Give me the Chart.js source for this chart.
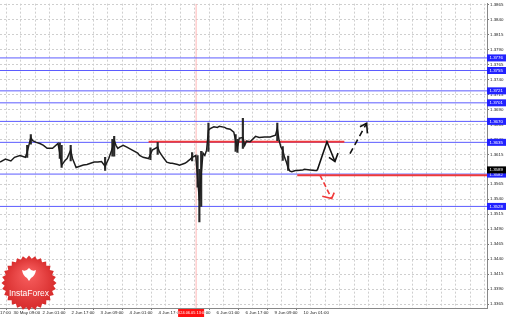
<!DOCTYPE html>
<html>
<head>
<meta charset="utf-8">
<script src="https://cdn.jsdelivr.net/npm/chart.js@4.4.1/dist/chart.umd.min.js"></script>
<style>
html, body { margin: 0; padding: 0; background: #fff; }
</style>
</head>
<body>
<canvas id="chart" width="510" height="318"></canvas>
<script>
// bar numbers (hourly bars, left edge = 0) and closes
const closeBars = [
  0, 3, 6, 8, 11, 14, 15, 17, 18, 20, 22, 24, 26, 29, 32, 33, 34, 36, 37, 39,
  40, 42, 44, 46, 48, 50, 52, 54, 56, 58, 60, 62, 63, 64, 65, 66, 68, 70, 73, 76,
  77, 79, 82, 83, 84, 87, 88, 90, 92, 94, 95, 98, 99, 102, 103, 105, 106, 108, 109, 110,
  111, 112, 113, 114, 115, 116, 118, 120, 121, 124, 125, 127, 129, 130, 131, 132, 134, 135, 136, 138,
  141, 143, 146, 149, 152, 153, 154, 155, 156, 157, 158, 159, 160, 161, 163, 164, 167, 168, 171, 174,
  175
];
const closePrices = [
  1.3602, 1.3607, 1.3604, 1.3610, 1.3613, 1.3610, 1.3619, 1.3643, 1.3638, 1.3635, 1.3633, 1.3630, 1.3625, 1.3625, 1.3633, 1.3617, 1.3597, 1.3605, 1.3608, 1.3622,
  1.3608, 1.3593, 1.3595, 1.3597, 1.3598, 1.3600, 1.3602, 1.3602, 1.3603, 1.3595, 1.3608, 1.3625, 1.3638, 1.3630, 1.3625, 1.3627, 1.3630, 1.3627, 1.3622, 1.3617,
  1.3613, 1.3610, 1.3608, 1.3615, 1.3622, 1.3627, 1.3619, 1.3610, 1.3602, 1.3600, 1.3600, 1.3598, 1.3597, 1.3600, 1.3602, 1.3607, 1.3610, 1.3613, 1.3577, 1.3538,
  1.3583, 1.3617, 1.3613, 1.3622, 1.3655, 1.3658, 1.3661, 1.3660, 1.3662, 1.3660, 1.3658, 1.3657, 1.3652, 1.3638, 1.3625, 1.3642, 1.3643, 1.3630, 1.3637, 1.3636,
  1.3645, 1.3643, 1.3644, 1.3644, 1.3647, 1.3658, 1.3638, 1.3627, 1.3622, 1.3610, 1.3602, 1.3592, 1.3587, 1.3586, 1.3588, 1.3588, 1.3589, 1.3590, 1.3589, 1.3588,
  1.3588
];

// the longer candle shadows
const wickBars  = [15, 17, 33, 34, 39, 58, 62, 63, 83, 87, 106, 109, 110, 111, 115, 130, 131, 134, 153, 156, 159];
const wickLows  = [1.3610, 1.3632, 1.3608, 1.3593, 1.3604, 1.3588, 1.3612, 1.3612, 1.3606, 1.3615, 1.3604, 1.3560, 1.3502, 1.3528, 1.3620, 1.3620, 1.3618, 1.3625, 1.3638, 1.3605, 1.3588];
const wickHighs = [1.3630, 1.3648, 1.3634, 1.3630, 1.3630, 1.3610, 1.3640, 1.3645, 1.3626, 1.3635, 1.3618, 1.3613, 1.3590, 1.3620, 1.3667, 1.3648, 1.3640, 1.3675, 1.3667, 1.3628, 1.3612];

// horizontal levels (blue), the two red ones and the last price
const levelPrices = [1.3776, 1.3755, 1.3721, 1.3701, 1.3670, 1.3635, 1.3582, 1.3528];
const redLevelPrices = [1.3636, 1.3580];
const redLevelFrom = [82, 164];
const redLevelTo = [190, 269];
const lastPrice = 1.3589;

// vertical marker
const markerBar = 108.2;
const markerLabel = '2024.06.05 13:00';

// drawn arrows
const upPathBars = [175, 180.4, 184.8];
const upPathPrices = [1.3588, 1.3636, 1.3603];
const upHeadBars = [181.5, 184.8, 186.5];
const upHeadPrices = [1.3610, 1.3603, 1.3617];
const dashUpBars = [193.1, 202.3];
const dashUpPrices = [1.3616, 1.3667];
const dashUpHeadBars = [198.6, 202.3, 202.7];
const dashUpHeadPrices = [1.3661, 1.3667, 1.3650];
const redDownBars = [176.6, 183];
const redDownPrices = [1.3580, 1.3541];
const redDownHeadBars = [177.8, 183, 184.4];
const redDownHeadPrices = [1.3545, 1.3541, 1.3551];

// axes
const xLabelBars = [0, 7.5, 23.5, 39.5, 55.5, 71.5, 87.5, 103.5, 119.5, 135.5, 151.5, 167.5];
const xLabelTexts = ['17:00', '30 May 09:00', '2 Jun 01:00', '2 Jun 17:00', '3 Jun 09:00', '4 Jun 01:00',
  '4 Jun 17:00', '5 Jun 09:00', '6 Jun 01:00', '6 Jun 17:00', '9 Jun 09:00', '10 Jun 01:00'];
const yTickValues = [1.3865, 1.3840, 1.3815, 1.3790, 1.3765, 1.3740, 1.3715, 1.3690, 1.3665, 1.3640,
  1.3615, 1.3590, 1.3565, 1.3540, 1.3515, 1.3490, 1.3465, 1.3440, 1.3415, 1.3390, 1.3365];

const xMax = 268.7;
const yMin = 1.335833, yMax = 1.386667;
const FONT = 'Liberation Sans';

function line(xs, ys, color, width, dash, order) {
    return {
        type: 'line',
        data: xs.map((x, i) => ({x: x, y: ys[i]})),
        borderColor: color,
        borderWidth: width,
        borderDash: dash,
        pointRadius: 0,
        fill: false,
        tension: 0,
        order: order
    };
}

function labelFor(v) {
    const i = xLabelBars.findIndex(b => Math.abs(b - v) < 0.01);
    return i < 0 ? '' : xLabelTexts[i];
}

let datasets = [];
datasets.push(line([markerBar, markerBar], [yMin, yMax], '#ffb4b4', 1, [], 20));
levelPrices.forEach(p => datasets.push(line([0, xMax], [p, p], '#5c5cff', 1, [], 19)));
redLevelPrices.forEach((p, i) => datasets.push(line([redLevelFrom[i], redLevelTo[i]], [p, p], '#f03a3a', 2, [], 18)));
datasets.push({
    type: 'bar',
    data: wickBars.map((b, i) => ({x: b, y: [wickLows[i], wickHighs[i]]})),
    backgroundColor: '#2a2a2a',
    barThickness: 1.5,
    grouped: false,
    order: 17
});
datasets.push(line(closeBars, closePrices, '#1c1c1c', 1.5, [], 16));
datasets.push(line(upPathBars, upPathPrices, '#111', 1.6, [], 5));
datasets.push(line(upHeadBars, upHeadPrices, '#111', 1.6, [], 5));
datasets.push(line(dashUpBars, dashUpPrices, '#111', 1.6, [6, 4], 5));
datasets.push(line(dashUpHeadBars, dashUpHeadPrices, '#111', 1.6, [], 5));
datasets.push(line(redDownBars, redDownPrices, '#f03a3a', 1.6, [5, 3], 5));
datasets.push(line(redDownHeadBars, redDownHeadPrices, '#f03a3a', 1.6, [], 5));

function priceBox(ctx, y, txt, bg) {
    ctx.fillStyle = bg;
    ctx.fillRect(487, y - 3.5, 19, 7);
    ctx.fillStyle = '#fff';
    ctx.fillText(txt, 489.5, y + 0.3);
}

function drawLogo(ctx) {
    const cx = 29, cy = 283, n = 28;
    ctx.save();
    ctx.beginPath();
    for (let i = 0; i < n * 2; i++) {
        const r = i % 2 ? 24.5 : 27.5;
        const a = Math.PI * i / n - Math.PI / 2;
        const x = cx + r * Math.cos(a), y = cy + r * Math.sin(a);
        if (i) ctx.lineTo(x, y); else ctx.moveTo(x, y);
    }
    ctx.closePath();
    const g = ctx.createRadialGradient(cx, cy - 10, 3, cx, cy, 28);
    g.addColorStop(0, '#f65c5c');
    g.addColorStop(1, '#d62a2a');
    ctx.fillStyle = g;
    ctx.fill();
    // emblem
    ctx.fillStyle = '#fff';
    ctx.beginPath();
    ctx.moveTo(cx, cy - 15);
    ctx.quadraticCurveTo(cx + 3, cy - 11, cx + 7, cy - 13);
    ctx.quadraticCurveTo(cx + 6, cy - 7, cx + 2, cy - 5);
    ctx.lineTo(cx, cy - 2);
    ctx.lineTo(cx - 2, cy - 5);
    ctx.quadraticCurveTo(cx - 6, cy - 7, cx - 7, cy - 13);
    ctx.quadraticCurveTo(cx - 3, cy - 11, cx, cy - 15);
    ctx.fill();
    ctx.font = '8.5px "' + FONT + '"';
    ctx.textAlign = 'center';
    ctx.textBaseline = 'middle';
    ctx.fillText('InstaForex', cx, cy + 11);
    ctx.restore();
}

const overlay = {
    id: 'overlay',
    beforeDraw(chart) {
        const ctx = chart.ctx;
        ctx.save();
        ctx.fillStyle = '#fff';
        ctx.fillRect(0, 0, chart.width, chart.height);
        ctx.restore();
    },
    afterDraw(chart) {
        const ctx = chart.ctx;
        const ys = chart.scales.y, xs = chart.scales.x;
        ctx.save();
        ctx.font = '4.4px "' + FONT + '"';
        ctx.textBaseline = 'middle';
        ctx.textAlign = 'left';
        levelPrices.forEach(p => priceBox(ctx, ys.getPixelForValue(p), p.toFixed(4), '#2222ff'));
        priceBox(ctx, ys.getPixelForValue(lastPrice), lastPrice.toFixed(4), '#000');
        // date of the vertical marker
        const mx = xs.getPixelForValue(markerBar);
        ctx.fillStyle = '#ff1010';
        ctx.fillRect(mx - 18, 309, 26, 8);
        ctx.fillStyle = '#fff';
        ctx.font = '3.9px "' + FONT + '"';
        ctx.textAlign = 'center';
        ctx.fillText(markerLabel, mx - 5, 313.2);
        ctx.restore();
        drawLogo(ctx);
    }
};

new Chart(document.getElementById('chart'), {
    type: 'line',
    data: {datasets: datasets},
    plugins: [overlay],
    options: {
        responsive: false,
        animation: false,
        layout: {padding: 0, autoPadding: false},
        plugins: {legend: {display: false}, tooltip: {enabled: false}},
        scales: {
            x: {
                type: 'linear',
                min: 0,
                max: xMax,
                offset: false,
                afterBuildTicks(scale) {
                    let t = [{value: 0}];
                    for (let v = 7.5; v < xMax; v += 8) t.push({value: v});
                    scale.ticks = t;
                },
                afterFit(scale) { scale.height = 10; },
                ticks: {
                    autoSkip: false,
                    maxRotation: 0,
                    align: 'start',
                    padding: 0,
                    color: '#222',
                    font: {family: FONT, size: 4.4},
                    callback: v => labelFor(v)
                },
                grid: {
                    color: c => (c.tick && c.tick.value === 0) ? 'rgba(0,0,0,0)' : '#cfcfcf',
                    tickColor: c => (c.tick && labelFor(c.tick.value) && c.tick.value > 0) ? '#777' : 'rgba(0,0,0,0)',
                    tickLength: 2
                },
                border: {display: true, color: '#888', dash: [2, 2]}
            },
            y: {
                type: 'linear',
                position: 'right',
                min: yMin,
                max: yMax,
                afterBuildTicks(scale) {
                    scale.ticks = yTickValues.map(v => ({value: v}));
                },
                afterFit(scale) { scale.width = 23; },
                ticks: {
                    autoSkip: false,
                    padding: 1,
                    color: '#222',
                    font: {family: FONT, size: 4.4},
                    callback: v => v.toFixed(4)
                },
                grid: {color: '#cfcfcf', tickColor: '#777', tickLength: 2},
                border: {display: true, color: '#888', dash: [2, 2]}
            }
        }
    }
});
</script>
</body>
</html>
